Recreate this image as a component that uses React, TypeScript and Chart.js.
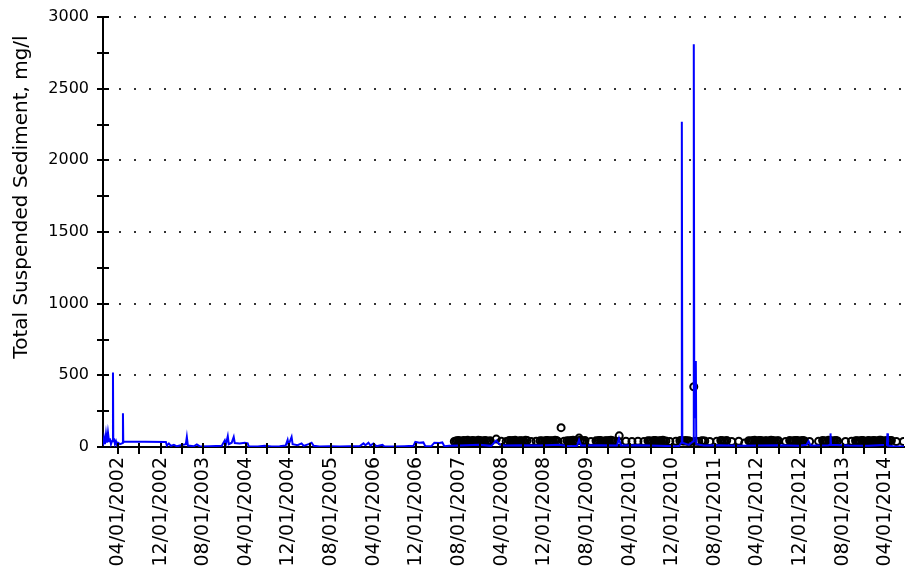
import React, { useEffect, useRef } from 'react';
import { Chart, registerables } from 'chart.js';

Chart.register(...registerables);

const yAxisTitle = 'Total Suspended Sediment, mg/l';
const yLabelTicks = [0, 500, 1000, 1500, 2000, 2500, 3000];
const yMarkTicks = [0, 250, 500, 750, 1000, 1250, 1500, 1750, 2000, 2250, 2500, 2750, 3000];
const xTickDates = [
  '04/01/2002', '08/01/2002', '12/01/2002', '04/01/2003', '08/01/2003', '12/01/2003',
  '04/01/2004', '08/01/2004', '12/01/2004', '04/01/2005', '08/01/2005', '12/01/2005',
  '04/01/2006', '08/01/2006', '12/01/2006', '04/01/2007', '08/01/2007', '12/01/2007',
  '04/01/2008', '08/01/2008', '12/01/2008', '04/01/2009', '08/01/2009', '12/01/2009',
  '04/01/2010', '08/01/2010', '12/01/2010', '04/01/2011', '08/01/2011', '12/01/2011',
  '04/01/2012', '08/01/2012', '12/01/2012', '04/01/2013', '08/01/2013', '12/01/2013',
  '04/01/2014',
];
const xMin = 2002.016;
const xMax = 2014.541;

// Continuous record (blue line): decimal year, mg/l
const lineYears = [
  2002.016, 2002.032, 2002.047, 2002.063, 2002.078, 2002.094, 2002.110, 2002.125, 2002.141, 2002.156,
  2002.167, 2002.172, 2002.177, 2002.188, 2002.203, 2002.219, 2002.234, 2002.250, 2002.281, 2002.312,
  2002.323, 2002.328, 2002.333, 2002.344, 2002.999, 2003.015, 2003.046, 2003.077, 2003.124, 2003.171,
  2003.233, 2003.311, 2003.327, 2003.343, 2003.436, 2003.483, 2003.530, 2003.686, 2003.873, 2003.920,
  2003.936, 2003.967, 2003.983, 2004.029, 2004.060, 2004.076, 2004.154, 2004.232, 2004.279, 2004.294,
  2004.435, 2004.544, 2004.653, 2004.778, 2004.872, 2004.903, 2004.918, 2004.965, 2004.981, 2005.059,
  2005.121, 2005.153, 2005.231, 2005.278, 2005.309, 2005.402, 2005.558, 2005.714, 2005.870, 2006.027,
  2006.089, 2006.120, 2006.167, 2006.198, 2006.245, 2006.292, 2006.386, 2006.417, 2006.573, 2006.729,
  2006.869, 2006.900, 2006.962, 2007.025, 2007.056, 2007.150, 2007.197, 2007.275, 2007.322, 2007.353,
  2007.431, 2007.587, 2007.899, 2008.086, 2008.165, 2008.212, 2008.290, 2008.524, 2008.836, 2009.148,
  2009.304, 2009.429, 2009.460, 2009.491, 2009.772, 2010.053, 2010.084, 2010.115, 2010.396, 2010.708,
  2011.020, 2011.060, 2011.067, 2011.075, 2011.176, 2011.246, 2011.254, 2011.262, 2011.286, 2011.293,
  2011.410, 2011.644, 2011.957, 2012.269, 2012.581, 2012.893, 2013.018, 2013.049, 2013.080, 2013.361,
  2013.384, 2013.392, 2013.400, 2013.673, 2013.985, 2014.274, 2014.282, 2014.290, 2014.375, 2014.610,
];
const lineValues = [
  10, 60, 20, 90, 30, 100, 40, 60, 20, 40,
  45, 520, 40, 60, 20, 40, 15, 30, 20, 25,
  30, 235, 40, 38, 35, 10, 25, 8, 15, 5,
  12, 20, 70, 10, 5, 18, 4, 6, 8, 45,
  15, 75, 20, 30, 70, 28, 25, 30, 25, 5,
  4, 8, 3, 6, 10, 50, 15, 70, 20, 12,
  25, 8, 20, 30, 8, 3, 5, 4, 6, 5,
  25, 12, 30, 10, 25, 6, 15, 4, 3, 5,
  8, 35, 30, 32, 5, 6, 30, 28, 32, 5,
  8, 10, 15, 8, 45, 20, 10, 12, 10, 15,
  5, 8, 50, 10, 12, 10, 60, 10, 12, 8,
  5, 30, 2270, 30, 15, 40, 2810, 200, 600, 20,
  10, 12, 8, 10, 12, 8, 15, 40, 10, 12,
  15, 95, 15, 10, 8, 15, 95, 10, 5, 3,
];

// Grab samples (black circles): decimal year, mg/l
const sampleYears = [
  2007.509, 2007.556, 2007.603, 2007.650, 2007.696, 2007.743, 2007.790, 2007.837, 2007.884, 2007.930,
  2007.977, 2008.024, 2008.071, 2008.165, 2008.243, 2008.321, 2008.367, 2008.414, 2008.461, 2008.508,
  2008.555, 2008.601, 2008.648, 2008.711, 2008.789, 2008.851, 2008.898, 2008.945, 2008.992, 2009.038,
  2009.085, 2009.132, 2009.179, 2009.226, 2009.273, 2009.319, 2009.366, 2009.413, 2009.460, 2009.507,
  2009.553, 2009.647, 2009.725, 2009.772, 2009.819, 2009.866, 2009.912, 2009.959, 2010.006, 2010.080,
  2010.088, 2010.193, 2010.287, 2010.381, 2010.474, 2010.537, 2010.583, 2010.630, 2010.677, 2010.724,
  2010.771, 2010.817, 2010.880, 2010.974, 2011.036, 2011.083, 2011.130, 2011.176, 2011.208, 2011.254,
  2011.286, 2011.332, 2011.379, 2011.426, 2011.504, 2011.613, 2011.676, 2011.723, 2011.769, 2011.847,
  2011.957, 2012.050, 2012.113, 2012.160, 2012.206, 2012.253, 2012.300, 2012.347, 2012.394, 2012.440,
  2012.487, 2012.534, 2012.581, 2012.690, 2012.753, 2012.799, 2012.846, 2012.893, 2012.940, 2012.987,
  2013.065, 2013.205, 2013.268, 2013.314, 2013.361, 2013.408, 2013.455, 2013.502, 2013.626, 2013.720,
  2013.783, 2013.829, 2013.876, 2013.923, 2013.970, 2014.017, 2014.063, 2014.110, 2014.157, 2014.204,
  2014.251, 2014.297, 2014.344, 2014.422, 2014.532,
  2007.532, 2007.579, 2007.626, 2007.673, 2007.719, 2007.766, 2007.813, 2007.860, 2007.907, 2007.953,
  2008.000, 2008.047, 2008.390, 2008.437, 2008.484, 2008.531, 2008.578, 2008.624, 2008.874, 2008.921,
  2008.968, 2009.015, 2009.061, 2009.108, 2009.296, 2009.342, 2009.389, 2009.436, 2009.483, 2009.530,
  2009.748, 2009.795, 2009.842, 2009.889, 2009.935, 2009.982, 2010.560, 2010.606, 2010.653, 2010.700,
  2010.747, 2010.794, 2011.059, 2011.106, 2011.153, 2011.402, 2011.699, 2011.746, 2012.136, 2012.183,
  2012.229, 2012.276, 2012.323, 2012.370, 2012.417, 2012.463, 2012.510, 2012.557, 2012.776, 2012.822,
  2012.869, 2012.916, 2012.963, 2013.291, 2013.338, 2013.384, 2013.431, 2013.478, 2013.806, 2013.852,
  2013.899, 2013.946, 2013.993, 2014.040, 2014.086, 2014.133, 2014.180, 2014.227, 2014.274, 2014.320,
];
const sampleValues = [
  38, 44, 40, 46, 42, 38, 45, 41, 47, 40,
  44, 39, 43, 55, 40, 38, 45, 42, 47, 40,
  44, 39, 45, 38, 40, 44, 41, 46, 40, 43,
  47, 38, 135, 40, 44, 42, 47, 41, 62, 40,
  45, 38, 43, 46, 40, 44, 41, 47, 42, 38,
  78, 40, 38, 40, 38, 44, 41, 46, 40, 43,
  47, 42, 38, 40, 44, 41, 46, 43, 38, 420,
  40, 38, 44, 42, 38, 40, 45, 41, 46, 38,
  40, 28, 44, 40, 47, 42, 45, 39, 44, 41,
  46, 40, 43, 38, 45, 41, 46, 40, 44, 42,
  38, 40, 45, 41, 47, 40, 44, 42, 38, 40,
  44, 41, 46, 40, 44, 39, 45, 42, 47, 40,
  44, 41, 45, 38, 38,
  41, 45, 39, 43, 47, 40, 44, 38, 46, 42,
  45, 40, 43, 46, 39, 44, 41, 47, 42, 38,
  45, 43, 40, 46, 41, 45, 39, 44, 47, 42,
  40, 45, 38, 43, 46, 41, 42, 39, 45, 41,
  44, 40, 45, 42, 39, 41, 43, 40, 42, 45,
  39, 46, 41, 43, 40, 47, 42, 44, 39, 43,
  46, 41, 45, 42, 38, 45, 41, 46, 43, 40,
  45, 39, 46, 42, 44, 40, 47, 41, 43, 45,
];

const xTickValues = xTickDates.map((s) => {
  const [mm, , yyyy] = s.split('/');
  return Number(yyyy) + (Number(mm) - 1) / 12;
});

const decorPlugin = {
  id: 'decor',
  afterDraw(chart: any) {
    const { ctx, chartArea, scales } = chart;
    const xs = scales.x;
    const ys = scales.y;
    ctx.save();
    ctx.strokeStyle = '#000';
    ctx.lineWidth = 2;
    ctx.beginPath();
    for (const v of yMarkTicks) {
      const py = Math.round(ys.getPixelForValue(v));
      ctx.moveTo(chartArea.left - 6, py);
      ctx.lineTo(chartArea.left + 6, py);
    }
    for (const v of xTickValues) {
      const px = Math.round(xs.getPixelForValue(v));
      ctx.moveTo(px, chartArea.bottom - 4);
      ctx.lineTo(px, chartArea.bottom + 7);
    }
    ctx.stroke();
    ctx.fillStyle = '#000';
    ctx.font = '20px "DejaVu Sans"';
    ctx.textAlign = 'center';
    ctx.textBaseline = 'middle';
    ctx.translate(22, 197);
    ctx.rotate(-Math.PI / 2);
    ctx.fillText(yAxisTitle, 0, 0);
    ctx.restore();
  },
};

export default function App() {
  const ref = useRef<HTMLCanvasElement | null>(null);
  useEffect(() => {
    if (!ref.current) return;
    const chart = new Chart(ref.current, {
      type: 'line',
      data: {
        datasets: [
          {
            label: 'Continuous',
            data: lineYears.map((x, i) => ({ x, y: lineValues[i] })),
            borderColor: '#0000ff',
            borderWidth: 2,
            pointRadius: 0,
            tension: 0,
            fill: false,
          },
          {
            label: 'Samples',
            data: sampleYears.map((x, i) => ({ x, y: sampleValues[i] })),
            showLine: false,
            pointRadius: 3.5,
            pointBorderWidth: 2,
            pointBorderColor: '#000',
            pointBackgroundColor: 'rgba(0,0,0,0)',
            borderColor: '#000',
          },
        ],
      },
      options: {
        responsive: false,
        animation: false,
        layout: { padding: { top: 17, right: 0, left: 0, bottom: 0 } },
        plugins: { legend: { display: false }, tooltip: { enabled: false } },
        scales: {
          x: {
            type: 'linear',
            min: xMin,
            max: xMax,
            afterBuildTicks: (s: any) => {
              s.ticks = xTickValues.map((v) => ({ value: v }));
            },
            ticks: {
              autoSkip: false,
              minRotation: 90,
              maxRotation: 90,
              padding: 10,
              color: '#000',
              font: { family: 'DejaVu Sans', size: 19 },
              callback: (_v: any, i: number) => (i % 2 === 0 ? xTickDates[i] : ''),
            },
            grid: { display: false, drawTicks: false },
            border: { display: true, color: '#000', width: 2 },
            afterFit: (s: any) => {
              s.height = 129;
              s.paddingLeft = 0;
              s.paddingRight = 0;
            },
          },
          y: {
            min: 0,
            max: 3000,
            afterBuildTicks: (s: any) => {
              s.ticks = yLabelTicks.map((v) => ({ value: v }));
            },
            ticks: {
              padding: 14,
              color: '#000',
              font: { family: 'DejaVu Sans', size: 16 },
              callback: (v: any) => String(v),
            },
            grid: {
              drawTicks: false,
              lineWidth: 2,
              color: (c: any) => (c.tick && c.tick.value === 0 ? 'rgba(0,0,0,0)' : '#333'),
            },
            border: { color: '#000', width: 2, dash: [2, 13] },
            afterFit: (s: any) => {
              s.width = 103;
              s.paddingTop = 0;
              s.paddingBottom = 0;
            },
          },
        },
      },
      plugins: [decorPlugin],
    });
    return () => chart.destroy();
  }, []);
  return (
    <div style={{ position: 'absolute', left: 0, top: 0, width: 910, height: 576, background: '#fff' }}>
      <canvas ref={ref} width={910} height={576} style={{ display: 'block' }} />
    </div>
  );
}
